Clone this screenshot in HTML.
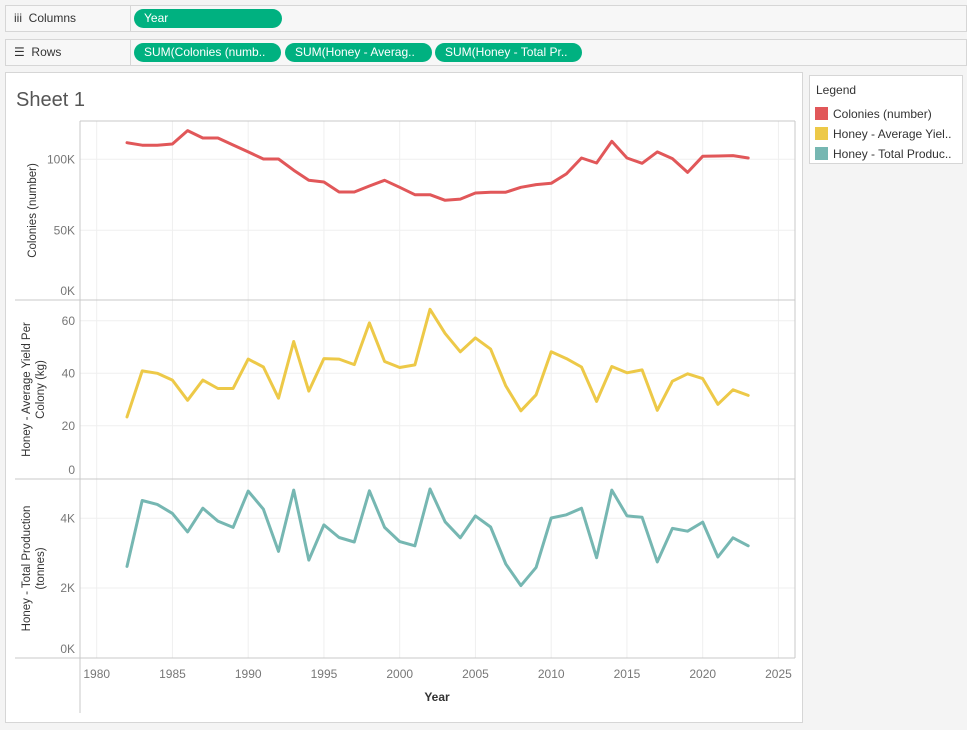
<!DOCTYPE html>
<html><head><meta charset="utf-8"><style>
body{margin:0;width:967px;height:730px;background:#f4f4f4;font-family:"Liberation Sans",sans-serif;position:relative;overflow:hidden}
.shelf{position:absolute;left:5px;width:962px;height:27px;background:#f7f7f7;border:1px solid #d6d6d6;box-sizing:border-box}
.shelf .lab{position:absolute;left:0;top:0;width:125px;height:25px;border-right:1px solid #d6d6d6;font-size:12px;color:#333;line-height:25px;padding-left:8px;box-sizing:border-box}
.pill{position:absolute;top:3px;height:19px;border-radius:10px;background:#00b180;color:#fff;font-size:12px;line-height:19px;padding-left:10px;box-sizing:border-box;white-space:nowrap;overflow:hidden}
#sheet{position:absolute;left:5px;top:72px;width:798px;height:651px;background:#fff;border:1px solid #d6d6d6;box-sizing:border-box}
#legend{position:absolute;left:809px;top:75px;width:154px;height:89px;background:#fff;border:1px solid #d6d6d6;box-sizing:border-box;font-size:12px;color:#333}
.li{position:absolute;left:5px;height:14px;line-height:14px;white-space:nowrap}
.sw{display:inline-block;width:13px;height:13px;vertical-align:top;margin-right:5px}
</style></head><body>
<div class="shelf" style="top:5px"><div class="lab">iii&nbsp; Columns</div><div class="pill" style="left:128px;width:148px">Year</div></div>
<div class="shelf" style="top:39px"><div class="lab">☰&nbsp; Rows</div>
<div class="pill" style="left:128px;width:147px">SUM(Colonies (numb..</div>
<div class="pill" style="left:279px;width:147px">SUM(Honey - Averag..</div>
<div class="pill" style="left:429px;width:147px">SUM(Honey - Total Pr..</div></div>
<div id="sheet"></div>
<div id="legend">
<div style="position:absolute;left:6px;top:7px">Legend</div>
<div class="li" style="top:31px"><span class="sw" style="background:#e15759"></span>Colonies (number)</div>
<div class="li" style="top:51px"><span class="sw" style="background:#edc948"></span>Honey - Average Yiel..</div>
<div class="li" style="top:71px"><span class="sw" style="background:#76b7b2"></span>Honey - Total Produc..</div>
</div>
<svg id="chart" width="967" height="730" style="position:absolute;left:0;top:0"></svg>
<script>
const years=[];for(let y=1982;y<=2023;y++)years.push(y);
const colonies=[111.7,109.9,109.9,110.8,120.2,115,115,110.1,105.2,100.2,100.2,92.3,85.2,84,77,77,81.2,85.2,80.3,75.1,75.1,71.1,72,76.3,76.8,76.8,80.3,82.2,83.1,89.7,100.9,97.4,112.7,100.9,97.2,105.2,100.5,90.8,102.1,102.3,102.6,100.9];
const yieldKg=[23.4,40.9,40.0,37.4,29.7,37.4,34.2,34.2,45.4,42.4,30.5,52.1,33.2,45.6,45.4,43.3,59.2,44.5,42.2,43.2,64.4,55.2,48.2,53.5,49.2,35.2,25.7,31.8,48.2,45.6,42.4,29.3,42.6,40.2,41.3,25.9,37.0,39.8,38.0,28.2,33.7,31.6];
const production=[2.62,4.51,4.40,4.14,3.61,4.29,3.92,3.74,4.78,4.26,3.05,4.81,2.80,3.81,3.45,3.32,4.79,3.74,3.33,3.21,4.84,3.90,3.44,4.07,3.75,2.69,2.07,2.59,4.01,4.10,4.29,2.87,4.81,4.07,4.03,2.75,3.71,3.63,3.89,2.89,3.44,3.21];
const xTicks=[1980,1985,1990,1995,2000,2005,2010,2015,2020,2025];
const colTicks=[0,50,100],colLabels=["0K","50K","100K"];
const yldTicks=[0,20,40,60],yldLabels=["0","20","40","60"];
const prodTicks=[0,2,4],prodLabels=["0K","2K","4K"];
const NS="http://www.w3.org/2000/svg",svg=document.getElementById('chart');
function el(t,a,p){const e=document.createElementNS(NS,t);for(const k in a)e.setAttribute(k,a[k]);(p||svg).appendChild(e);return e;}
const X=v=>96.7+(v-1980)*15.15;
const L=80,R=795;
const panes=[
{top:121,bot:300,y0:301.3,k:1.42,data:colonies,ticks:colTicks,labels:colLabels,color:"#e15759",title:["Colonies (number)"],name:"colonies"},
{top:300,bot:479,y0:478.3,k:2.625,data:yieldKg,ticks:yldTicks,labels:yldLabels,color:"#edc948",title:["Honey - Average Yield Per","Colony (kg)"],name:"yield"},
{top:479,bot:658,y0:657.7,k:34.85,data:production,ticks:prodTicks,labels:prodLabels,color:"#76b7b2",title:["Honey - Total Production","(tonnes)"],name:"production"}];
xTicks.forEach(t=>{let g=el('line',{x1:X(t),x2:X(t),y1:121,y2:658,stroke:'#efefef'});});
panes.forEach(p=>{
 const Y=v=>p.y0-v*p.k;
 p.ticks.forEach((t,i)=>{
  if(t>0){let g=el('line',{x1:L,x2:R,y1:Y(t),y2:Y(t),stroke:'#efefef'});}
  let tx=el('text',{x:75,y:Math.min(Y(t),p.bot-9)+4,'text-anchor':'end','font-size':'12',fill:'#777'});tx.textContent=p.labels[i];
  
 });
 const cy=(p.top+p.bot)/2;
 const tt=el('text',{transform:`translate(${p.title.length>1?30:36},${cy}) rotate(-90)`,'text-anchor':'middle','font-size':'11.5',fill:'#333'});
 
 p.title.forEach((s,i)=>{const ts=el('tspan',{x:0,dy:i?14:0},tt);ts.textContent=s;});
 const pts=p.data.map((v,i)=>X(years[i]).toFixed(1)+','+Y(v).toFixed(1)).join(' ');
 const pl=el('polyline',{points:pts,fill:'none',stroke:p.color,'stroke-width':'3','stroke-linejoin':'round','stroke-linecap':'round'});
 
});
[[L,121,R,121],[R,121,R,658],[15,300,R,300],[15,479,R,479],[15,658,R,658],[L,121,L,713]].forEach(c=>{
 let l=el('line',{x1:c[0],y1:c[1],x2:c[2],y2:c[3],stroke:'#c8c8c8'});});
xTicks.forEach(t=>{let tx=el('text',{x:X(t),y:678,'text-anchor':'middle','font-size':'12',fill:'#777'});tx.textContent=t;
 });
let xt=el('text',{x:437,y:701,'text-anchor':'middle','font-size':'12','font-weight':'bold',fill:'#333'});xt.textContent='Year';

let st=el('text',{x:16,y:106,'font-size':'20',fill:'#555'});st.textContent='Sheet 1';

</script>
</body></html>
